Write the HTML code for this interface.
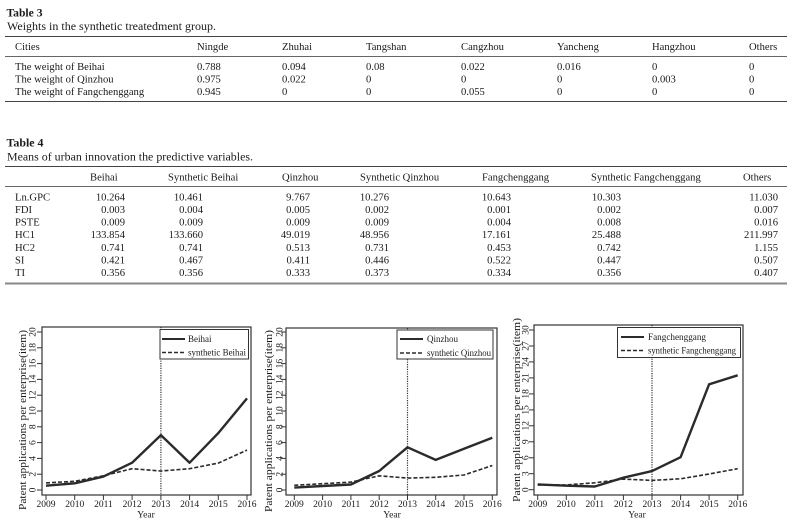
<!DOCTYPE html>
<html><head><meta charset="utf-8"><style>
html,body{margin:0;padding:0;background:#fff;}
svg{display:block;}
text{font-family:"Liberation Serif","DejaVu Serif",serif;fill:#1a1a1a;}
</style></head><body>
<svg width="795" height="525" viewBox="0 0 795 525" xmlns="http://www.w3.org/2000/svg">
<rect width="795" height="525" fill="#fff"/>
<!-- TABLE 3 -->
<g font-size="10.6">
<text x="6.5" y="16.5" font-weight="bold" font-size="11.5" textLength="36" lengthAdjust="spacingAndGlyphs">Table 3</text>
<text x="7" y="30" font-size="11.5" textLength="209" lengthAdjust="spacingAndGlyphs">Weights in the synthetic treatedment group.</text>
<line x1="5" y1="36.5" x2="787" y2="36.5" stroke="#444" stroke-width="1"/>
<text x="15" y="50">Cities</text>
<text x="197" y="50">Ningde</text>
<text x="282" y="50">Zhuhai</text>
<text x="366" y="50">Tangshan</text>
<text x="461" y="50">Cangzhou</text>
<text x="557" y="50">Yancheng</text>
<text x="652" y="50">Hangzhou</text>
<text x="749" y="50">Others</text>
<line x1="5" y1="56.5" x2="787" y2="56.5" stroke="#666" stroke-width="1"/>
<text x="15" y="70">The weight of Beihai</text>
<text x="197" y="70">0.788</text><text x="282" y="70">0.094</text><text x="366" y="70">0.08</text><text x="461" y="70">0.022</text><text x="557" y="70">0.016</text><text x="652" y="70">0</text><text x="749" y="70">0</text>
<text x="15" y="82.5">The weight of Qinzhou</text>
<text x="197" y="82.5">0.975</text><text x="282" y="82.5">0.022</text><text x="366" y="82.5">0</text><text x="461" y="82.5">0</text><text x="557" y="82.5">0</text><text x="652" y="82.5">0.003</text><text x="749" y="82.5">0</text>
<text x="15" y="95">The weight of Fangchenggang</text>
<text x="197" y="95">0.945</text><text x="282" y="95">0</text><text x="366" y="95">0</text><text x="461" y="95">0.055</text><text x="557" y="95">0</text><text x="652" y="95">0</text><text x="749" y="95">0</text>
<line x1="5" y1="101.5" x2="787" y2="101.5" stroke="#444" stroke-width="1"/>
</g>
<!-- TABLE 4 -->
<g font-size="10.6">
<text x="6.5" y="146.5" font-weight="bold" font-size="11.5" textLength="37" lengthAdjust="spacingAndGlyphs">Table 4</text>
<text x="7" y="160.5" font-size="11.5" textLength="246" lengthAdjust="spacingAndGlyphs">Means of urban innovation the predictive variables.</text>
<line x1="5" y1="166.5" x2="787" y2="166.5" stroke="#444" stroke-width="1"/>
<text x="90" y="180.5">Beihai</text>
<text x="168" y="180.5">Synthetic Beihai</text>
<text x="282" y="180.5">Qinzhou</text>
<text x="360" y="180.5">Synthetic Qinzhou</text>
<text x="482" y="180.5">Fangchenggang</text>
<text x="591" y="180.5">Synthetic Fangchenggang</text>
<text x="743" y="180.5">Others</text>
<line x1="5" y1="186.5" x2="787" y2="186.5" stroke="#666" stroke-width="1"/>
<g>
<text x="15" y="200.5">Ln.GPC</text>
<text x="15" y="213">FDI</text>
<text x="15" y="225.5">PSTE</text>
<text x="15" y="238">HC1</text>
<text x="15" y="251">HC2</text>
<text x="15" y="263.5">SI</text>
<text x="15" y="276">TI</text>
</g>
<g text-anchor="end">
<text x="125" y="200.5">10.264</text><text x="203" y="200.5">10.461</text><text x="310" y="200.5">9.767</text><text x="389" y="200.5">10.276</text><text x="511" y="200.5">10.643</text><text x="621" y="200.5">10.303</text><text x="778" y="200.5">11.030</text>
<text x="125" y="213">0.003</text><text x="203" y="213">0.004</text><text x="310" y="213">0.005</text><text x="389" y="213">0.002</text><text x="511" y="213">0.001</text><text x="621" y="213">0.002</text><text x="778" y="213">0.007</text>
<text x="125" y="225.5">0.009</text><text x="203" y="225.5">0.009</text><text x="310" y="225.5">0.009</text><text x="389" y="225.5">0.009</text><text x="511" y="225.5">0.004</text><text x="621" y="225.5">0.008</text><text x="778" y="225.5">0.016</text>
<text x="125" y="238">133.854</text><text x="203" y="238">133.660</text><text x="310" y="238">49.019</text><text x="389" y="238">48.956</text><text x="511" y="238">17.161</text><text x="621" y="238">25.488</text><text x="778" y="238">211.997</text>
<text x="125" y="251">0.741</text><text x="203" y="251">0.741</text><text x="310" y="251">0.513</text><text x="389" y="251">0.731</text><text x="511" y="251">0.453</text><text x="621" y="251">0.742</text><text x="778" y="251">1.155</text>
<text x="125" y="263.5">0.421</text><text x="203" y="263.5">0.467</text><text x="310" y="263.5">0.411</text><text x="389" y="263.5">0.446</text><text x="511" y="263.5">0.522</text><text x="621" y="263.5">0.447</text><text x="778" y="263.5">0.507</text>
<text x="125" y="276">0.356</text><text x="203" y="276">0.356</text><text x="310" y="276">0.333</text><text x="389" y="276">0.373</text><text x="511" y="276">0.334</text><text x="621" y="276">0.356</text><text x="778" y="276">0.407</text>
</g>
<line x1="5" y1="283.5" x2="787" y2="283.5" stroke="#888" stroke-width="2"/>
</g>

<!-- CHART 1 -->
<g>
<line x1="160.9" y1="327" x2="160.9" y2="495" stroke="#333" stroke-width="1.2" stroke-dasharray="1.2,1.2"/>
<rect x="42" y="327" width="209" height="168" fill="none" stroke="#333" stroke-width="1.2"/>
<g stroke="#333" stroke-width="1">
<line x1="37" y1="490" x2="42" y2="490"/><line x1="37" y1="474.2" x2="42" y2="474.2"/><line x1="37" y1="458.4" x2="42" y2="458.4"/><line x1="37" y1="442.6" x2="42" y2="442.6"/><line x1="37" y1="426.8" x2="42" y2="426.8"/><line x1="37" y1="411" x2="42" y2="411"/><line x1="37" y1="395.2" x2="42" y2="395.2"/><line x1="37" y1="379.4" x2="42" y2="379.4"/><line x1="37" y1="363.6" x2="42" y2="363.6"/><line x1="37" y1="347.8" x2="42" y2="347.8"/><line x1="37" y1="332" x2="42" y2="332"/>
<line x1="46" y1="495" x2="46" y2="500"/><line x1="74.7" y1="495" x2="74.7" y2="500"/><line x1="103.4" y1="495" x2="103.4" y2="500"/><line x1="132.1" y1="495" x2="132.1" y2="500"/><line x1="160.9" y1="495" x2="160.9" y2="500"/><line x1="189.6" y1="495" x2="189.6" y2="500"/><line x1="218.3" y1="495" x2="218.3" y2="500"/><line x1="247" y1="495" x2="247" y2="500"/>
</g>
<g font-size="9.5" text-anchor="middle" fill="#333">
<text transform="translate(32,490) rotate(-90)" dy="0.35em">0</text>
<text transform="translate(32,474.2) rotate(-90)" dy="0.35em">2</text>
<text transform="translate(32,458.4) rotate(-90)" dy="0.35em">4</text>
<text transform="translate(32,442.6) rotate(-90)" dy="0.35em">6</text>
<text transform="translate(32,426.8) rotate(-90)" dy="0.35em">8</text>
<text transform="translate(32,411) rotate(-90)" dy="0.35em">10</text>
<text transform="translate(32,395.2) rotate(-90)" dy="0.35em">12</text>
<text transform="translate(32,379.4) rotate(-90)" dy="0.35em">14</text>
<text transform="translate(32,363.6) rotate(-90)" dy="0.35em">16</text>
<text transform="translate(32,347.8) rotate(-90)" dy="0.35em">18</text>
<text transform="translate(32,332) rotate(-90)" dy="0.35em">20</text>
<text x="46" y="507">2009</text><text x="74.7" y="507">2010</text><text x="103.4" y="507">2011</text><text x="132.1" y="507">2012</text><text x="160.9" y="507">2013</text><text x="189.6" y="507">2014</text><text x="218.3" y="507">2015</text><text x="247" y="507">2016</text>
<text x="146" y="517.5">Year</text>
<text transform="translate(22,420) rotate(-90)" dy="0.35em" font-size="11" textLength="180" lengthAdjust="spacingAndGlyphs">Patent applications per enterprise(item)</text>
</g>
<polyline fill="none" stroke="#2b2b2b" stroke-width="2.4" stroke-linejoin="round" points="46,485.65 74.7,483.3 103.4,476.6 132.1,462.7 160.9,435.1 189.6,462.7 218.3,433.1 247,398.4"/>
<polyline fill="none" stroke="#2b2b2b" stroke-width="1.6" stroke-dasharray="4,2" points="46,482.9 74.7,481.3 103.4,475.8 132.1,468.7 160.9,471 189.6,468.7 218.3,463.1 247,450.1"/>
<rect x="160" y="329.5" width="88.5" height="29.5" fill="#fff" stroke="#333" stroke-width="1"/>
<line x1="162" y1="339" x2="185" y2="339" stroke="#2b2b2b" stroke-width="2"/>
<line x1="162" y1="352.5" x2="185" y2="352.5" stroke="#2b2b2b" stroke-width="1.6" stroke-dasharray="4,2"/>
<text x="188" y="342" font-size="9">Beihai</text>
<text x="188" y="355.5" font-size="9" textLength="58" lengthAdjust="spacingAndGlyphs">synthetic Beihai</text>
</g>

<!-- CHART 2 -->
<g>
<line x1="407.5" y1="328" x2="407.5" y2="495" stroke="#333" stroke-width="1.2" stroke-dasharray="1.2,1.2"/>
<rect x="286" y="328" width="211" height="167" fill="none" stroke="#333" stroke-width="1.2"/>
<g stroke="#333" stroke-width="1">
<line x1="281" y1="490" x2="286" y2="490"/><line x1="281" y1="474.2" x2="286" y2="474.2"/><line x1="281" y1="458.4" x2="286" y2="458.4"/><line x1="281" y1="442.6" x2="286" y2="442.6"/><line x1="281" y1="426.8" x2="286" y2="426.8"/><line x1="281" y1="411" x2="286" y2="411"/><line x1="281" y1="395.2" x2="286" y2="395.2"/><line x1="281" y1="379.4" x2="286" y2="379.4"/><line x1="281" y1="363.6" x2="286" y2="363.6"/><line x1="281" y1="347.8" x2="286" y2="347.8"/><line x1="281" y1="332" x2="286" y2="332"/>
<line x1="294.3" y1="495" x2="294.3" y2="500"/><line x1="322.6" y1="495" x2="322.6" y2="500"/><line x1="350.9" y1="495" x2="350.9" y2="500"/><line x1="379.2" y1="495" x2="379.2" y2="500"/><line x1="407.5" y1="495" x2="407.5" y2="500"/><line x1="435.7" y1="495" x2="435.7" y2="500"/><line x1="464" y1="495" x2="464" y2="500"/><line x1="492.3" y1="495" x2="492.3" y2="500"/>
</g>
<g font-size="9.5" text-anchor="middle" fill="#333">
<text transform="translate(279,490) rotate(-90)" dy="0.35em">0</text>
<text transform="translate(279,474.2) rotate(-90)" dy="0.35em">2</text>
<text transform="translate(279,458.4) rotate(-90)" dy="0.35em">4</text>
<text transform="translate(279,442.6) rotate(-90)" dy="0.35em">6</text>
<text transform="translate(279,426.8) rotate(-90)" dy="0.35em">8</text>
<text transform="translate(279,411) rotate(-90)" dy="0.35em">10</text>
<text transform="translate(279,395.2) rotate(-90)" dy="0.35em">12</text>
<text transform="translate(279,379.4) rotate(-90)" dy="0.35em">14</text>
<text transform="translate(279,363.6) rotate(-90)" dy="0.35em">16</text>
<text transform="translate(279,347.8) rotate(-90)" dy="0.35em">18</text>
<text transform="translate(279,332) rotate(-90)" dy="0.35em">20</text>
<text x="294.3" y="507">2009</text><text x="322.6" y="507">2010</text><text x="350.9" y="507">2011</text><text x="379.2" y="507">2012</text><text x="407.5" y="507">2013</text><text x="435.7" y="507">2014</text><text x="464" y="507">2015</text><text x="492.3" y="507">2016</text>
<text x="392" y="517.5">Year</text>
<text transform="translate(268,421) rotate(-90)" dy="0.35em" font-size="11" textLength="182" lengthAdjust="spacingAndGlyphs">Patent applications per enterprise(item)</text>
</g>
<polyline fill="none" stroke="#2b2b2b" stroke-width="2.4" stroke-linejoin="round" points="294.3,487.6 322.6,486 350.9,484.5 379.2,471 407.5,447.3 435.7,459.9 464,448.8 492.3,437.8"/>
<polyline fill="none" stroke="#2b2b2b" stroke-width="1.6" stroke-dasharray="4,2" points="294.3,485.3 322.6,483.7 350.9,482.1 379.2,475.8 407.5,478.1 435.7,477.3 464,475 492.3,465.5"/>
<rect x="397" y="330" width="96" height="29" fill="#fff" stroke="#333" stroke-width="1"/>
<line x1="400" y1="339" x2="423" y2="339" stroke="#2b2b2b" stroke-width="2"/>
<line x1="400" y1="353" x2="423" y2="353" stroke="#2b2b2b" stroke-width="1.6" stroke-dasharray="4,2"/>
<text x="427" y="342" font-size="9">Qinzhou</text>
<text x="427" y="356" font-size="9" textLength="64" lengthAdjust="spacingAndGlyphs">synthetic Qinzhou</text>
</g>

<!-- CHART 3 -->
<g>
<line x1="652" y1="325" x2="652" y2="495" stroke="#333" stroke-width="1.2" stroke-dasharray="1.2,1.2"/>
<rect x="534" y="325" width="209" height="170" fill="none" stroke="#333" stroke-width="1.2"/>
<g stroke="#333" stroke-width="1">
<line x1="529" y1="489.7" x2="534" y2="489.7"/><line x1="529" y1="473.7" x2="534" y2="473.7"/><line x1="529" y1="457.8" x2="534" y2="457.8"/><line x1="529" y1="441.8" x2="534" y2="441.8"/><line x1="529" y1="425.8" x2="534" y2="425.8"/><line x1="529" y1="409.9" x2="534" y2="409.9"/><line x1="529" y1="393.9" x2="534" y2="393.9"/><line x1="529" y1="377.9" x2="534" y2="377.9"/><line x1="529" y1="361.9" x2="534" y2="361.9"/><line x1="529" y1="346" x2="534" y2="346"/><line x1="529" y1="330" x2="534" y2="330"/>
<line x1="537.7" y1="495" x2="537.7" y2="500"/><line x1="566.3" y1="495" x2="566.3" y2="500"/><line x1="594.8" y1="495" x2="594.8" y2="500"/><line x1="623.4" y1="495" x2="623.4" y2="500"/><line x1="652" y1="495" x2="652" y2="500"/><line x1="680.6" y1="495" x2="680.6" y2="500"/><line x1="709.1" y1="495" x2="709.1" y2="500"/><line x1="737.7" y1="495" x2="737.7" y2="500"/>
</g>
<g font-size="9.5" text-anchor="middle" fill="#333">
<text transform="translate(525,489.7) rotate(-90)" dy="0.35em">0</text>
<text transform="translate(525,473.7) rotate(-90)" dy="0.35em">3</text>
<text transform="translate(525,457.8) rotate(-90)" dy="0.35em">6</text>
<text transform="translate(525,441.8) rotate(-90)" dy="0.35em">9</text>
<text transform="translate(525,425.8) rotate(-90)" dy="0.35em">12</text>
<text transform="translate(525,409.9) rotate(-90)" dy="0.35em">15</text>
<text transform="translate(525,393.9) rotate(-90)" dy="0.35em">18</text>
<text transform="translate(525,377.9) rotate(-90)" dy="0.35em">21</text>
<text transform="translate(525,361.9) rotate(-90)" dy="0.35em">24</text>
<text transform="translate(525,346) rotate(-90)" dy="0.35em">27</text>
<text transform="translate(525,330) rotate(-90)" dy="0.35em">30</text>
<text x="537.7" y="507">2009</text><text x="566.3" y="507">2010</text><text x="594.8" y="507">2011</text><text x="623.4" y="507">2012</text><text x="652" y="507">2013</text><text x="680.6" y="507">2014</text><text x="709.1" y="507">2015</text><text x="737.7" y="507">2016</text>
<text x="637" y="517.5">Year</text>
<text transform="translate(516,410) rotate(-90)" dy="0.35em" font-size="11" textLength="184" lengthAdjust="spacingAndGlyphs">Patent applications per enterprise(item)</text>
</g>
<polyline fill="none" stroke="#2b2b2b" stroke-width="2.4" stroke-linejoin="round" points="537.7,484.4 566.3,485.7 594.8,486.5 623.4,477.7 652,471.1 680.6,457.2 709.1,384.3 737.7,375.3"/>
<polyline fill="none" stroke="#2b2b2b" stroke-width="1.6" stroke-dasharray="4,2" points="537.7,484.9 566.3,484.9 594.8,482.8 623.4,479.1 652,480.4 680.6,478.8 709.1,474 737.7,468.7"/>
<rect x="617.5" y="327.5" width="123" height="30" fill="#fff" stroke="#333" stroke-width="1"/>
<line x1="621" y1="337" x2="644" y2="337" stroke="#2b2b2b" stroke-width="2"/>
<line x1="621" y1="350.5" x2="644" y2="350.5" stroke="#2b2b2b" stroke-width="1.6" stroke-dasharray="4,2"/>
<text x="648" y="340" font-size="9" textLength="58" lengthAdjust="spacingAndGlyphs">Fangchenggang</text>
<text x="648" y="353.5" font-size="9" textLength="88" lengthAdjust="spacingAndGlyphs">synthetic Fangchenggang</text>
</g>
</svg>
</body></html>
